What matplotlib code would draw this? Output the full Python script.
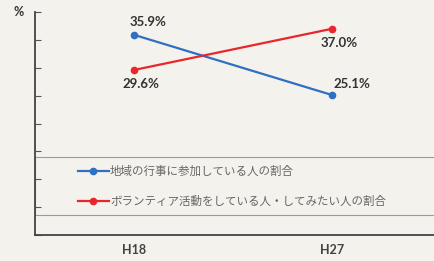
import matplotlib.pyplot as plt
from matplotlib.patches import Rectangle

plt.rcParams['font.family'] = ['Noto Sans CJK JP', 'DejaVu Sans']

# data
years = ['H18', 'H27']
events = [35.9, 25.1]      # 地域の行事に参加している人の割合
volunteer = [29.6, 37.0]   # ボランティア活動をしている人・してみたい人の割合
labels = ['地域の行事に参加している人の割合',
          'ボランティア活動をしている人・してみたい人の割合']

bg = '#f3f2ec'
blue = '#2f6fc4'
red = '#e8262c'

fig = plt.figure(figsize=(4.35, 2.61), dpi=100, facecolor=bg)
ax = fig.add_axes([0.0805, 0.0996, 0.92, 0.8544], facecolor=bg)

x = range(len(years))
ax.plot(x, events, color=blue, lw=1.6, marker='o', ms=4.5, label=labels[0])
ax.plot(x, volunteer, color=red, lw=1.6, marker='o', ms=4.5, label=labels[1])

ax.set_xlim(-0.5, 1.52)
ax.set_ylim(0, 40)
ax.set_yticks(range(0, 41, 5))
ax.set_yticklabels([])
ax.set_xticks([])

for s in ['top', 'right']:
    ax.spines[s].set_visible(False)
for s in ['left', 'bottom']:
    ax.spines[s].set_color('#444444')
    ax.spines[s].set_linewidth(1.3)
ax.tick_params(axis='y', direction='in', length=4, width=0.8, color='#555555')

# value labels
lab_kw = dict(fontsize=9.5, fontweight='bold', color='#333333',
              family=['Lato', 'DejaVu Sans'], ha='center', va='center')
ax.annotate(f'{events[0]}%', (0, events[0]), xytext=(10, 9), textcoords='offset points', **lab_kw)
ax.annotate(f'{volunteer[0]}%', (0, volunteer[0]), xytext=(5, -10), textcoords='offset points', **lab_kw)
ax.annotate(f'{volunteer[1]}%', (1, volunteer[1]), xytext=(5, -10), textcoords='offset points', **lab_kw)
ax.annotate(f'{events[1]}%', (1, events[1]), xytext=(14, 8), textcoords='offset points', **lab_kw)

# category labels under axis
for i, yr in enumerate(years):
    ax.text(i, -2.7, yr, ha='center', va='center', fontsize=9, fontweight='bold',
            color='#444444', family=['Lato', 'DejaVu Sans'])

ax.text(-0.04, 1.0, '%', transform=ax.transAxes, ha='center', va='center',
        fontsize=9, fontweight='bold', color='#333333', family=['Lato', 'DejaVu Sans'])

# legend box
ax.add_patch(Rectangle((0, 0.09), 1.2, 0.26, transform=ax.transAxes, fill=False,
                       edgecolor='#9a9a9a', lw=0.8, clip_on=False))
leg = ax.legend(loc='center left', bbox_to_anchor=(0.095, 0.217), borderaxespad=0,
                frameon=False, fontsize=8.3, labelspacing=1.5, handlelength=2.7,
                handletextpad=0.1, labelcolor='#666666')

fig.savefig('out.png', dpi=100, facecolor=bg)
